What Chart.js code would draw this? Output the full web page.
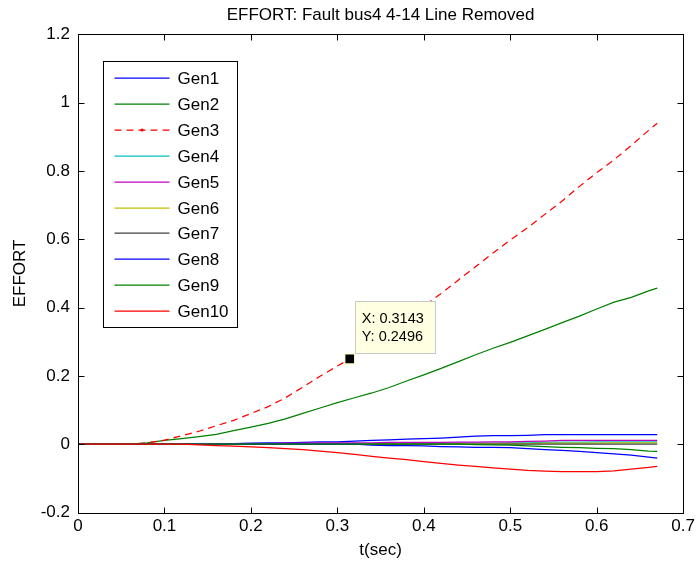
<!DOCTYPE html>
<html>
<head>
<meta charset="utf-8">
<script src="https://cdn.jsdelivr.net/npm/chart.js@4.4.1/dist/chart.umd.min.js"></script>
<style>
html,body{margin:0;padding:0;background:#fff;}
canvas{display:block;}
</style>
</head>
<body>
<canvas id="c" width="699" height="565"></canvas>
<script>
// ---- data ----
const tSec = [0,0.02,0.04,0.06,0.08,0.10,0.12,0.14,0.16,0.18,0.20,0.22,0.24,0.26,0.28,0.30,0.32,0.34,0.36,0.38,0.40,0.42,0.44,0.46,0.48,0.50,0.52,0.54,0.56,0.58,0.60,0.62,0.64,0.66,0.67];

const gen1 = [0,0,0,0,0,0,0,0,0,0.002,0.003,0.004,0.004,0.005,0.007,0.007,0.009,0.011,0.013,0.015,0.016,0.018,0.021,0.024,0.025,0.025,0.026,0.028,0.028,0.028,0.028,0.028,0.028,0.028,0.028];
const gen2 = [0,0,0,0,0.004,0.011,0.016,0.022,0.029,0.040,0.050,0.061,0.074,0.090,0.106,0.122,0.136,0.150,0.166,0.185,0.203,0.222,0.242,0.262,0.281,0.298,0.317,0.336,0.356,0.375,0.396,0.416,0.430,0.449,0.457];
const gen3 = [0,0,0,0,0.004,0.012,0.025,0.038,0.054,0.070,0.090,0.110,0.136,0.167,0.199,0.229,0.258,0.293,0.330,0.368,0.405,0.441,0.481,0.520,0.560,0.598,0.634,0.673,0.712,0.755,0.795,0.833,0.875,0.919,0.940];
const gen4 = [0,0,0,0,0,0,0,0,0,0,0,0,0,0,0,0,0.001,0.001,0.001,0.002,0.002,0.002,0.003,0.003,0.003,0.004,0.004,0.005,0.006,0.006,0.007,0.007,0.007,0.007,0.007];
const gen5 = [0,0,0,0,0,0,0,0,0,0.001,0.002,0.002,0.003,0.003,0.004,0.004,0.004,0.004,0.005,0.005,0.005,0.005,0.006,0.006,0.007,0.007,0.008,0.009,0.011,0.011,0.011,0.011,0.011,0.011,0.011];
const gen6 = [0,0,0,0,0,0,0,0,0,0,0,0,0,0,0,0,0,0,0,0,0,0,0.001,0.001,0.002,0.002,0.002,0.003,0.003,0.003,0.003,0.004,0.004,0.004,0.004];
const gen7 = [0,0,0,0,0,0,0,0,0,0,0,0,0,0,0,0,0,0,0,0,0,0,0,0,0,0,0,0,0,0,0,0,0,0,0];
const gen8 = [0,0,0,0,0,0,0,0,0,0,0,0,0,0,0,0,0,-0.003,-0.004,-0.004,-0.005,-0.007,-0.008,-0.009,-0.009,-0.010,-0.013,-0.016,-0.018,-0.021,-0.025,-0.028,-0.032,-0.038,-0.041];
const gen9 = [0,0,0,0,0,0,0,0,0,0,0,0,0,0,0,0,0,0,0,0,0,0,0,-0.001,-0.002,-0.003,-0.005,-0.007,-0.009,-0.010,-0.012,-0.013,-0.016,-0.020,-0.021];
const gen10 = [0,0,0,0,0,0,0,-0.002,-0.004,-0.006,-0.008,-0.010,-0.013,-0.016,-0.020,-0.025,-0.030,-0.036,-0.041,-0.045,-0.051,-0.056,-0.061,-0.065,-0.069,-0.073,-0.077,-0.079,-0.080,-0.080,-0.080,-0.078,-0.073,-0.068,-0.065];

const seriesNames = ['Gen1','Gen2','Gen3','Gen4','Gen5','Gen6','Gen7','Gen8','Gen9','Gen10'];
const seriesValues = [gen1,gen2,gen3,gen4,gen5,gen6,gen7,gen8,gen9,gen10];
const seriesColors = ['#0000ff','#008000','#ff0000','#00bfbf','#bf00bf','#bfbf00','#404040','#0000ff','#008000','#ff0000'];

const xTicks = [0,0.1,0.2,0.3,0.4,0.5,0.6,0.7];
const yTicks = [-0.2,0,0.2,0.4,0.6,0.8,1,1.2];

const tipX = [0.3143];
const tipY = [0.2496];

const chartTitle = 'EFFORT: Fault bus4 4-14 Line Removed';
const xTitle = 't(sec)';
const yTitle = 'EFFORT';

// ---- chart ----
const FONT = '"Liberation Sans", Arial, Helvetica, sans-serif';
const FS = 17;
const LW = 1.25;

const datasets = seriesNames.map((name, i) => ({
  label: name,
  data: tSec.map((t, k) => ({x: t, y: seriesValues[i][k]})),
  borderColor: seriesColors[i],
  backgroundColor: seriesColors[i],
  borderWidth: LW,
  borderDash: name === 'Gen3' ? [7, 5] : [],
  pointRadius: 0,
  tension: 0,
  fill: false,
  order: 10 - i
}));
datasets.push({
  label: 'datatip',
  data: tipX.map((x, k) => ({x: x, y: tipY[k]})),
  showLine: false,
  pointStyle: 'rect',
  pointRadius: 7.2,
  pointBackgroundColor: '#000000',
  pointBorderColor: '#ffffd0',
  pointBorderWidth: 1.5,
  order: 0
});

const fmt = v => String(parseFloat(Number(v).toFixed(2)));

const bgPlugin = {
  id: 'bg',
  beforeDraw(chart) {
    const c = chart.ctx;
    c.save(); c.fillStyle = '#ffffff'; c.fillRect(0, 0, chart.width, chart.height); c.restore();
  }
};

const boxPlugin = {
  id: 'axbox',
  afterDatasetsDraw(chart) {
    const {ctx, chartArea: a, scales} = chart;
    const L = Math.round(a.left) + 0.5, R = Math.round(a.right) + 0.5;
    const T = Math.round(a.top) + 0.5, B = Math.round(a.bottom) + 0.5;
    ctx.save();
    ctx.strokeStyle = '#000'; ctx.lineWidth = 1;
    ctx.strokeRect(L, T, R - L, B - T);
    const tl = 6;
    ctx.beginPath();
    scales.x.ticks.forEach(t => {
      const px = Math.round(scales.x.getPixelForValue(t.value)) + 0.5;
      ctx.moveTo(px, B); ctx.lineTo(px, B - tl);
      ctx.moveTo(px, T); ctx.lineTo(px, T + tl);
    });
    scales.y.ticks.forEach(t => {
      const py = Math.round(scales.y.getPixelForValue(t.value)) + 0.5;
      ctx.moveTo(L, py); ctx.lineTo(L + tl, py);
      ctx.moveTo(R, py); ctx.lineTo(R - tl, py);
    });
    ctx.stroke();
    ctx.restore();
  }
};

const tipPlugin = {
  id: 'tip',
  afterDatasetsDraw(chart) {
    const {ctx, scales} = chart;
    tipX.forEach((xv, k) => {
      const px = scales.x.getPixelForValue(xv);
      const py = scales.y.getPixelForValue(tipY[k]);
      const bx = Math.round(px + 5) + 0.5, by = Math.round(py - 58) + 0.5;
      ctx.save();
      ctx.fillStyle = '#ffffe1';
      ctx.strokeStyle = '#c8c8c8';
      ctx.lineWidth = 1;
      ctx.fillRect(bx, by, 80, 52);
      ctx.strokeRect(bx, by, 80, 52);
      ctx.fillStyle = '#000';
      ctx.font = '14.5px ' + FONT;
      ctx.textBaseline = 'middle';
      ctx.textAlign = 'left';
      ctx.fillText('X: ' + xv.toFixed(4), px + 12, py - 40);
      ctx.fillText('Y: ' + tipY[k].toFixed(4), px + 12, py - 22);
      ctx.restore();
    });
  }
};

const legendPlugin = {
  id: 'mlegend',
  afterDraw(chart) {
    const {ctx, chartArea: a} = chart;
    const left = Math.round(a.left + 25) + 0.5, top = Math.round(a.top + 27) + 0.5;
    const w = 134, h = 266, step = 25.9;
    ctx.save();
    ctx.fillStyle = '#fff';
    ctx.fillRect(left, top, w, h);
    ctx.strokeStyle = '#000'; ctx.lineWidth = 1;
    ctx.strokeRect(left, top, w, h);
    ctx.font = FS + 'px ' + FONT;
    ctx.textBaseline = 'middle';
    ctx.textAlign = 'left';
    seriesNames.forEach((name, i) => {
      const col = seriesColors[i];
      const y = Math.round(top + 16.5 + i * step);
      ctx.strokeStyle = col;
      ctx.lineWidth = LW;
      ctx.setLineDash(name === 'Gen3' ? [7, 5] : []);
      ctx.beginPath();
      ctx.moveTo(left + 11, y); ctx.lineTo(left + 66, y);
      ctx.stroke();
      ctx.setLineDash([]);
      if (name === 'Gen3') {
        ctx.fillStyle = col;
        ctx.beginPath(); ctx.arc(left + 38.5, y, 1.6, 0, Math.PI * 2); ctx.fill();
      }
      ctx.fillStyle = '#000';
      ctx.fillText(name, left + 74, y + 1);
    });
    ctx.restore();
  }
};

new Chart(document.getElementById('c'), {
  type: 'line',
  data: {datasets},
  options: {
    responsive: false,
    animation: false,
    events: [],
    layout: {padding: {left: 0, right: 15, top: 0, bottom: 0}},
    plugins: {
      legend: {display: false},
      tooltip: {enabled: false},
      title: {
        display: true,
        text: chartTitle,
        fullSize: false,
        color: '#000',
        font: {family: FONT, size: FS, weight: 'normal'},
        padding: {top: 5, bottom: 9}
      }
    },
    scales: {
      x: {
        type: 'linear',
        min: 0, max: 0.7,
        afterBuildTicks: s => { s.ticks = xTicks.map(v => ({value: v})); },
        afterFit: s => { s.height = 52.5; },
        grid: {display: false, drawTicks: false},
        border: {display: false},
        ticks: {color: '#000', font: {family: FONT, size: FS}, padding: 4, maxRotation: 0, callback: v => fmt(v)},
        title: {display: true, text: xTitle, color: '#000', font: {family: FONT, size: FS}, padding: {top: 0, bottom: 4}}
      },
      y: {
        type: 'linear',
        min: -0.2, max: 1.2,
        afterBuildTicks: s => { s.ticks = yTicks.map(v => ({value: v})); },
        afterFit: s => { s.width = 78; },
        grid: {display: false, drawTicks: false},
        border: {display: false},
        ticks: {color: '#000', font: {family: FONT, size: FS}, padding: 8, callback: v => fmt(v)},
        title: {display: true, text: yTitle, color: '#000', font: {family: FONT, size: FS}, padding: {top: 10, bottom: 0}}
      }
    }
  },
  plugins: [bgPlugin, boxPlugin, tipPlugin, legendPlugin]
});
</script>
</body>
</html>
